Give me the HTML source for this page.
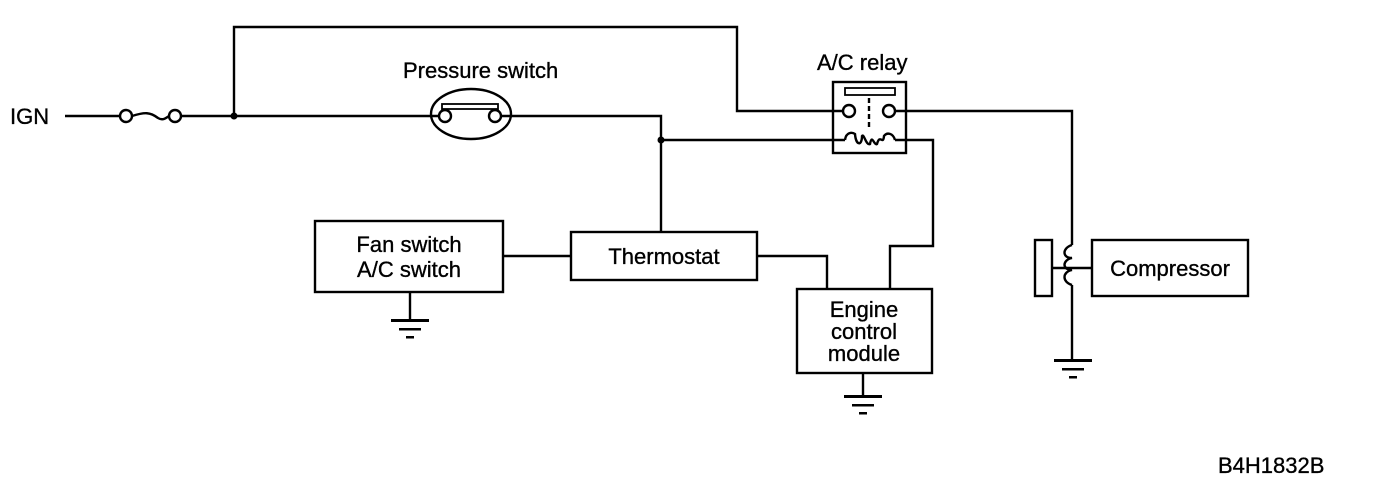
<!DOCTYPE html>
<html><head><style>
html,body{margin:0;padding:0;background:#fff;}
svg{display:block;}
text{font-family:"Liberation Sans",Arial,sans-serif;fill:#000;stroke:#000;stroke-width:0.35;}
</style></head><body>
<svg width="1376" height="486" viewBox="0 0 1376 486" xmlns="http://www.w3.org/2000/svg">
<g fill="none" stroke="#000" stroke-width="2.4">
<line x1="65" y1="116" x2="120" y2="116"/>
<circle cx="126" cy="116" r="6"/>
<path d="M132 116 C145 112,150 112,158 118 C163 121,166 118,169 116"/>
<circle cx="175" cy="116" r="6"/>
<line x1="181" y1="116" x2="439" y2="116"/>
<polyline points="234,116 234,27 737,27 737,111 843,111"/>
<ellipse cx="471" cy="114" rx="40" ry="25"/>
<rect x="442" y="104" width="56" height="5" stroke-width="1.8"/>
<circle cx="445" cy="116" r="6"/>
<circle cx="495" cy="116" r="6"/>
<polyline points="501,116 661,116 661,232"/>
<line x1="661" y1="140" x2="845" y2="140"/>
<rect x="833" y="82" width="73" height="71"/>
<rect x="845" y="88" width="50" height="7" stroke-width="1.8"/>
<circle cx="849" cy="111" r="6"/>
<circle cx="889" cy="111" r="6"/>
<line x1="869" y1="98" x2="869" y2="130" stroke-dasharray="5,3"/>
<path d="M845 140 C846 132,852 132,855 134 C856 146,862 146,862 136 C864 133,866 146,870 144 C872 133,874 146,877 144 C880 133,883 146,884 136 C887 132,893 133,895 140"/>
<polyline points="895,111 1072,111 1072,245"/>
<polyline points="895,140 933,140 933,246 890,246 890,289"/>
<path d="M1072 245 C1062 248,1062 258,1072 258 C1062 260,1062 270,1072 270 C1062 272,1062 282,1072 285"/>
<line x1="1072" y1="285" x2="1072" y2="360"/>
<rect x="1035" y="240" width="17" height="56"/>
<line x1="1052" y1="268" x2="1092" y2="268"/>
<rect x="1092" y="240" width="156" height="56"/>
<rect x="315" y="221" width="188" height="71"/>
<line x1="503" y1="256" x2="571" y2="256"/>
<rect x="571" y="232" width="186" height="48"/>
<polyline points="757,256 827,256 827,289"/>
<rect x="797" y="289" width="135" height="84"/>
<line x1="410" y1="292" x2="410" y2="320"/>
<line x1="863" y1="373" x2="863" y2="395"/>
</g>
<g fill="#000">
<circle cx="234" cy="116" r="3.5"/>
<circle cx="661" cy="140" r="3.5"/>
<rect x="391" y="319" width="38" height="3"/>
<rect x="399" y="328" width="22" height="2.5"/>
<rect x="406" y="336" width="8" height="2.5"/>
<rect x="844" y="395" width="38" height="3"/>
<rect x="852" y="404" width="22" height="2.5"/>
<rect x="859" y="412" width="8" height="2.5"/>
<rect x="1054" y="359" width="38" height="3"/>
<rect x="1062" y="368" width="22" height="2.5"/>
<rect x="1069" y="376" width="8" height="2.5"/>
</g>
<g font-size="22">
<text x="10" y="124">IGN</text>
<text x="403" y="78">Pressure switch</text>
<text x="817" y="70">A/C relay</text>
<text x="409" y="252" text-anchor="middle">Fan switch</text>
<text x="409" y="277" text-anchor="middle">A/C switch</text>
<text x="664" y="264" text-anchor="middle">Thermostat</text>
<text x="864" y="317" text-anchor="middle">Engine</text>
<text x="864" y="339" text-anchor="middle">control</text>
<text x="864" y="361" text-anchor="middle">module</text>
<text x="1170" y="276" text-anchor="middle">Compressor</text>
<text x="1218" y="473">B4H1832B</text>
</g>
</svg>
</body></html>
